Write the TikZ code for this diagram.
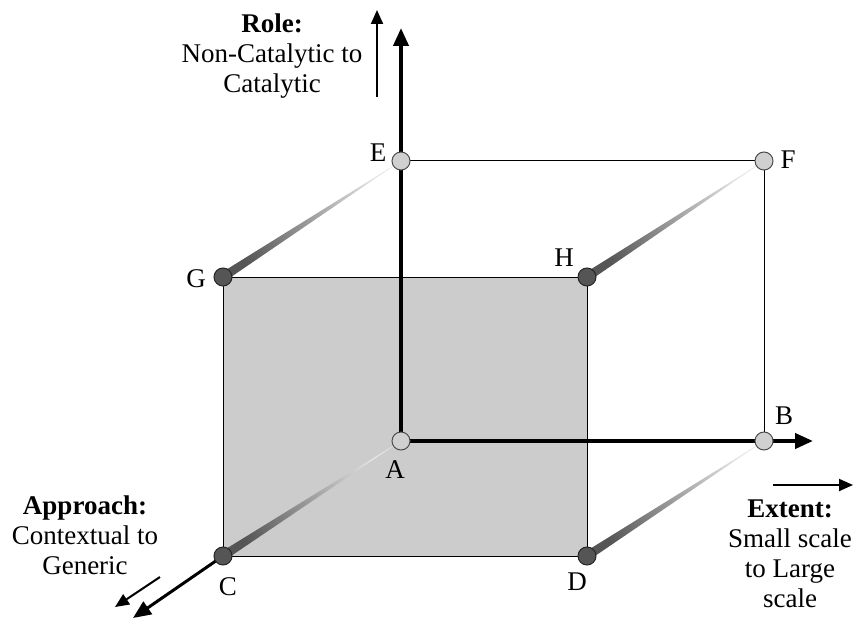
\documentclass[tikz,border=0pt]{standalone}
\usepackage{fontspec}
\setmainfont{Liberation Serif}
\usetikzlibrary{arrows.meta,calc}
\definecolor{facegray}{HTML}{CCCCCC}
\definecolor{darkpt}{HTML}{555555}
\definecolor{lightpt}{HTML}{D0D0D0}
\definecolor{wedgelight}{HTML}{E6E6E6}
\newcommand\mywedge[2]{%
  \shade[top color=darkpt, bottom color=wedgelight, shading angle=123.2]
    (#1) -- ($(#2)!4.5pt!90:(#1)$) -- ($(#2)!4.5pt!-90:(#1)$) -- cycle;}
\begin{document}
\begin{tikzpicture}[x=1pt,y=-1pt,
  thinedge/.style={line width=1pt, black},
  axisline/.style={line width=4pt, -{Triangle[length=18pt,width=15pt]}},
  hint/.style={line width=2pt, -{Triangle[length=14pt,width=12pt]}},
  frontpt/.style={circle, draw=black!85, line width=1pt, fill=darkpt, minimum size=18pt, inner sep=0pt},
  backpt/.style={circle, draw=black!70, line width=1pt, fill=lightpt, minimum size=18pt, inner sep=0pt},
  lbl/.style={font=\fontsize{27}{30}\selectfont, inner sep=0pt},
  caption/.style={font=\fontsize{27}{30}\selectfont, align=center, inner sep=0pt},
]
\useasboundingbox (0,0) rectangle (858,620);
% vertices
\coordinate (pA) at (401,441);
\coordinate (pB) at (764,441);
\coordinate (pE) at (401,161);
\coordinate (pF) at (764,161);
\coordinate (pG) at (223,277);
\coordinate (pH) at (587,277);
\coordinate (pC) at (223,556);
\coordinate (pD) at (587,556);
% axis tips
\coordinate (roleTip) at (401,28);
\coordinate (extTip) at (813,441);
\coordinate (appTip) at (133,618);
% front face
\draw[thinedge, fill=facegray] (pG) rectangle (pD);
% back edges
\draw[thinedge] (pE) -- (pF) -- (pB);
% depth wedges
\mywedge{pE}{pG}
\mywedge{pF}{pH}
\mywedge{pA}{pC}
\mywedge{pB}{pD}
% axes
\draw[axisline] (pA) -- (roleTip);
\draw[axisline] (pA) -- (extTip);
\draw[line width=3pt, -{Triangle[length=18pt,width=15pt]}] (pC) -- (appTip);
% vertex markers
\node[backpt] (A) at (pA) {};
\node[backpt] (B) at (pB) {};
\node[backpt] (E) at (pE) {};
\node[backpt] (F) at (pF) {};
\node[frontpt] (G) at (pG) {};
\node[frontpt] (H) at (pH) {};
\node[frontpt] (C) at (pC) {};
\node[frontpt] (D) at (pD) {};
% vertex labels
\node[lbl] (lA) at (395,470) {A};
\node[lbl] (lB) at (784,416) {B};
\node[lbl] (lC) at (228,587) {C};
\node[lbl] (lD) at (577,582) {D};
\node[lbl] (lE) at (378,153) {E};
\node[lbl] (lF) at (788,160) {F};
\node[lbl] (lG) at (196,279) {G};
\node[lbl] (lH) at (564,258) {H};
% captions
\node[caption] (rolecap) at (272,56) {\textbf{Role:}\\Non-Catalytic to\\Catalytic};
\node[caption] (appcap) at (85,535) {\textbf{Approach:}\\Contextual to\\Generic};
\node[caption] (extcap) at (790,554) {\textbf{Extent:}\\Small scale\\to Large\\scale};
% hint arrows
\coordinate (roleS) at (377,97);
\coordinate (roleE) at (377,10);
\coordinate (appS) at (160,577);
\coordinate (appE) at (115,607);
\coordinate (extS) at (773,485);
\coordinate (extE) at (853,485);
\draw[hint] (roleS) -- (roleE);
\draw[hint] (appS) -- (appE);
\draw[hint] (extS) -- (extE);
\end{tikzpicture}
\end{document}
